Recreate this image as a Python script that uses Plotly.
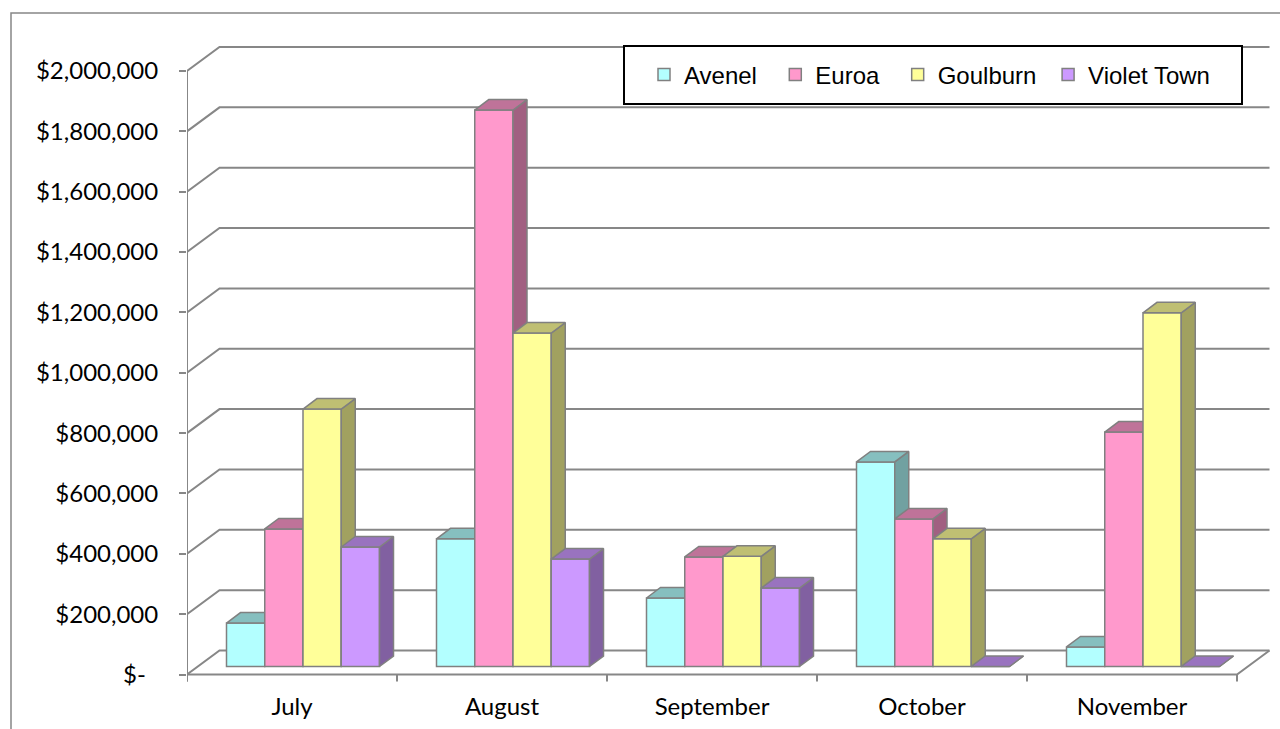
import plotly.graph_objects as go

# ---------------- data ----------------
months = ["July", "August", "September", "October", "November"]
series_names = ["Avenel", "Euroa", "Goulburn", "Violet Town"]
avenel = [144000, 423000, 227000, 678000, 65000]
euroa = [456000, 1844000, 363000, 489000, 777000]
goulburn = [853000, 1105000, 365000, 423000, 1172000]
violet_town = [396000, 356000, 260000, 0, 0]
y_tick_values = [0, 200000, 400000, 600000, 800000, 1000000, 1200000, 1400000, 1600000, 1800000, 2000000]
y_tick_labels = ["$-\u00a0\u00a0", "$200,000", "$400,000", "$600,000", "$800,000", "$1,000,000",
                 "$1,200,000", "$1,400,000", "$1,600,000", "$1,800,000", "$2,000,000"]
legend_pad = ["\u00a0\u00a0", "\u00a0\u00a0", "\u00a0", ""]

values = [avenel, euroa, goulburn, violet_town]
front_colors = ["#B3FFFF", "#FF99CC", "#FFFF99", "#CC99FF"]


def shade(hex_color, f):
    r, g, b = int(hex_color[1:3], 16), int(hex_color[3:5], 16), int(hex_color[5:7], 16)
    return "rgb(%d,%d,%d)" % (round(r * f), round(g * f), round(b * f))


top_colors = [shade(c, 0.75) for c in front_colors]
side_colors = [shade(c, 0.63) for c in front_colors]

# ---------------- geometry ----------------
W, H = 1280, 729
ML, MT = 187, 40
MR = W - 1272
MB = H - 690
PX = 210.0                      # px per category
S = 2000000 / 603.5             # data units per px (vertical)
FRONT0 = 674.5                  # pixel row of value 0 on the front plane
x_range = [-0.5, -0.5 + (W - MR - ML) / PX]
y_range = [-(H - MB - FRONT0) * S, (FRONT0 - MT) * S]

wall_dx, wall_dy = 32.5 / PX, 24 * S
bar_shift, bar_base = 11 / PX, 8 * S
bar_w = 38.25 / PX
depth_dx, depth_dy = 14 / PX, 10.5 * S
outline = "#808080"
grid = "#878787"

fig = go.Figure()

for k, (name, vals) in enumerate(zip(series_names, values)):
    ax = "" if k == 0 else str(k + 1)
    xs = [i + bar_shift + (k - 1.5) * bar_w for i in range(len(months))]
    fig.add_trace(go.Bar(
        x=xs, y=vals, base=[bar_base] * len(vals), width=bar_w,
        name=name + legend_pad[k],
        marker=dict(color=front_colors[k], line=dict(color=outline, width=1.5)),
        xaxis="x" + ax, yaxis="y" + ax, hoverinfo="skip",
    ))
    sx, sy, tx, ty = [], [], [], []
    for c, v in zip(xs, vals):
        xl, xr = c - bar_w / 2, c + bar_w / 2
        y0, y1 = bar_base, bar_base + v
        sx += [xr, xr + depth_dx, xr + depth_dx, xr, xr, None]
        sy += [y0, y0 + depth_dy, y1 + depth_dy, y1, y0, None]
        tx += [xl, xr, xr + depth_dx, xl + depth_dx, xl, None]
        ty += [y1, y1, y1 + depth_dy, y1 + depth_dy, y1, None]
    for px_, py_, col in ((sx, sy, side_colors[k]), (tx, ty, top_colors[k])):
        fig.add_trace(go.Scatter(
            x=px_, y=py_, mode="lines", fill="toself", fillcolor=col,
            line=dict(color=outline, width=1.5), showlegend=False,
            hoverinfo="skip", xaxis="x" + ax, yaxis="y" + ax,
        ))

# ---------------- walls / floor ----------------
shapes = []
x_left, x_right = -0.5, len(months) - 0.5
for v in y_tick_values:
    shapes.append(dict(
        type="path", xref="x", yref="y", layer="below",
        path="M%f,%f L%f,%f L%f,%f" % (x_left, v, x_left + wall_dx, v + wall_dy,
                                       x_right + wall_dx, v + wall_dy),
        line=dict(color=grid, width=2),
    ))
shapes.append(dict(
    type="path", xref="x", yref="y", layer="below",
    path="M%f,0 L%f,0 L%f,%f" % (x_left, x_right, x_right + wall_dx, wall_dy),
    line=dict(color=grid, width=2),
))
shapes.append(dict(type="line", xref="x", yref="y", layer="below",
                   x0=x_left, x1=x_left, y0=-7 * S, y1=y_tick_values[-1],
                   line=dict(color=grid, width=2)))
for i in range(len(months) + 1):
    b = x_left + i
    shapes.append(dict(type="line", xref="x", yref="y", layer="below",
                       x0=b, x1=b, y0=0, y1=-7 * S, line=dict(color=grid, width=2)))


def pxx(p):
    return (p - ML) / (W - ML - MR)


def pxy(p):
    return 1 - (p - MT) / (H - MT - MB)


# outer chart border
shapes.append(dict(type="rect", xref="paper", yref="paper", layer="below",
                   x0=pxx(11), x1=pxx(1300), y0=pxy(13), y1=pxy(760),
                   line=dict(color=grid, width=1.5)))
# legend box
shapes.append(dict(type="rect", xref="paper", yref="paper", layer="above",
                   x0=pxx(624), x1=pxx(1242), y0=pxy(46), y1=pxy(104),
                   fillcolor="white", line=dict(color="black", width=2)))

axis_font = dict(family="Lato", size=24, color="black")
fig.update_layout(
    width=W, height=H,
    margin=dict(l=ML, r=MR, t=MT, b=MB),
    paper_bgcolor="white", plot_bgcolor="white",
    barmode="overlay",
    showlegend=True,
    legend=dict(orientation="h", x=pxx(644), xanchor="left", y=pxy(75), yanchor="middle",
                bgcolor="rgba(0,0,0,0)", borderwidth=0,
                font=dict(family="Liberation Sans, Arial", size=24, color="black"),
                traceorder="normal"),
    xaxis=dict(range=x_range, tickvals=list(range(len(months))), ticktext=months,
               showgrid=False, zeroline=False, showline=False, ticks="",
               tickfont=axis_font, fixedrange=True),
    yaxis=dict(range=y_range, tickvals=y_tick_values, ticktext=y_tick_labels,
               showgrid=False, zeroline=False, showline=False, ticks="outside",
               ticklen=7, tickwidth=2, tickcolor=grid, ticklabelstandoff=16,
               tickfont=axis_font, fixedrange=True),
    shapes=shapes,
)
for k in range(2, 5):
    fig.update_layout(**{
        "xaxis%d" % k: dict(range=x_range, overlaying="x", visible=False, fixedrange=True),
        "yaxis%d" % k: dict(range=y_range, overlaying="y", visible=False, fixedrange=True),
    })

fig.write_html(
    "out.html",
    config={"displayModeBar": False},
    post_script="document.body.style.margin='0';document.body.style.overflow='hidden';"
                "document.documentElement.style.overflow='hidden';",
)
